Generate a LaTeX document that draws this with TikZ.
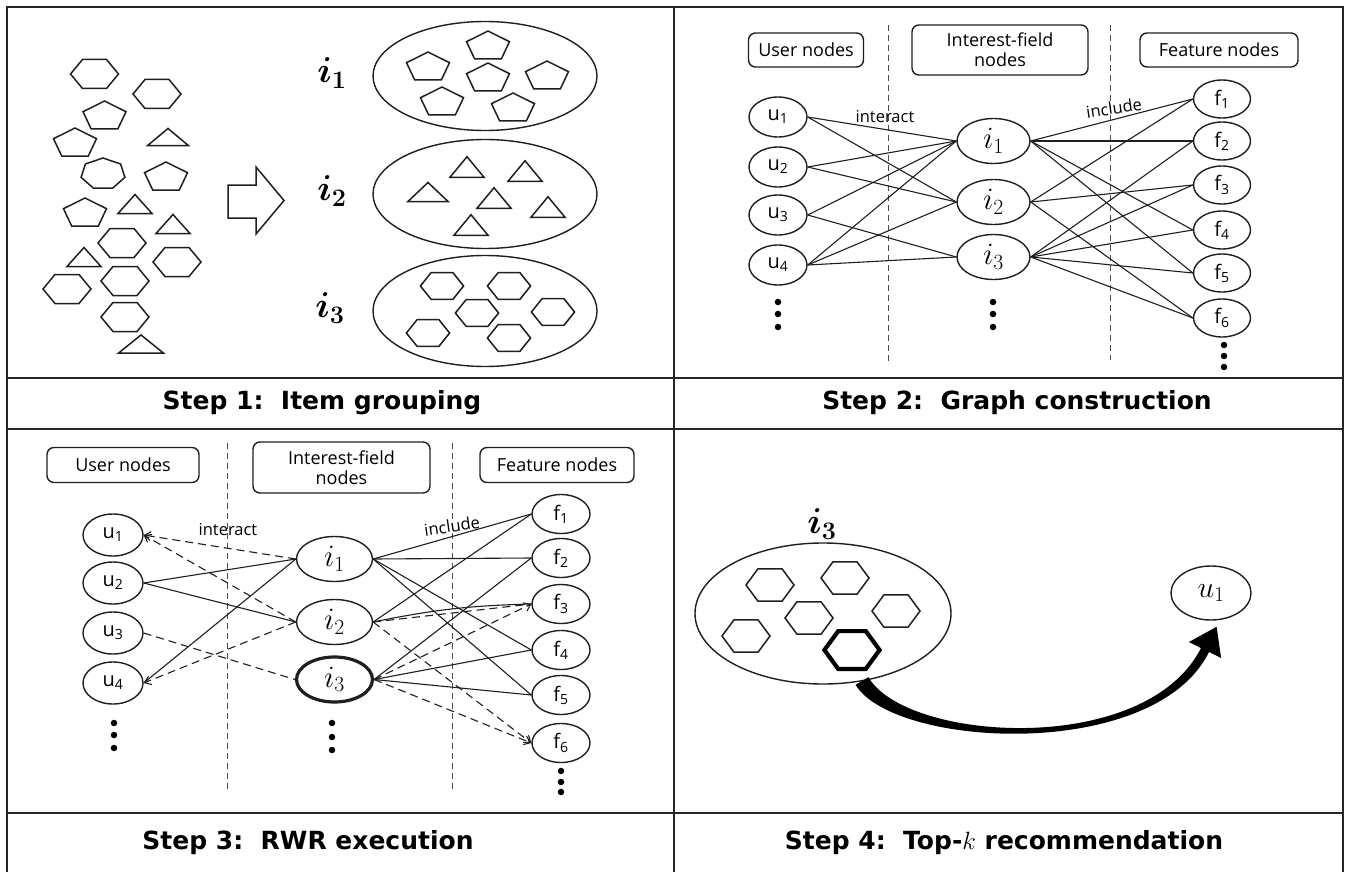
\RequirePackage{fix-cm}
\documentclass[tikz,border=0pt]{standalone}
\usepackage{bm}
\usepackage{fontspec}
\newfontfamily\nf{Open Sans}
\newfontfamily\cf{DejaVu Sans}
\usetikzlibrary{shapes.geometric,arrows.meta}
\tikzset{
  shp/.style={line width=1.5pt, draw=black!88, line join=miter},
  hexa/.pic={\draw[shp] (-24,0)--(-12,-14.5)--(12,-14.5)--(24,0)--(12,14.5)--(-12,14.5)--cycle;},
  penta/.pic={\draw[shp] (0,-14)--(21.5,-3.3)--(13.3,14)--(-13.3,14)--(-21.5,-3.3)--cycle;},
  tri/.pic={\draw[shp] (-17,9.5)--(17,9.5)--(0,-9.5)--cycle;},
  hepta/.pic={\draw[shp] (0,-15)--(17.6,-9)--(21.9,4.3)--(9.8,15)--(-9.8,15)--(-21.9,4.3)--(-17.6,-9)--cycle;},
}
\begin{document}
\begin{tikzpicture}[x=1pt,y=-1pt,
  frm/.style={line width=2.4pt, draw=black!85},
  ell/.style={ellipse, draw=black!88, line width=1.4pt, inner sep=0pt},
  unode/.style={ell, font=\nf\fontsize{20}{21}\selectfont},
  inode/.style={ell, font=\fontsize{31}{33}\selectfont},
  hdr/.style={draw=black!88, line width=1.4pt, rounded corners=7pt, inner sep=0pt, align=center, font=\nf\fontsize{18}{20}\selectfont},
  lnk/.style={line width=1.1pt, draw=black!88},
  dlnk/.style={lnk, dash pattern=on 8pt off 5pt},
  vdash/.style={line width=1pt, draw=black!70, dash pattern=on 6pt off 4pt},
  dotn/.style={circle, fill=black, inner sep=0pt, minimum size=6.5pt},
  steptext/.style={font=\cf\bfseries\fontsize{25}{28}\selectfont},
  lab/.style={font=\nf\fontsize{16.5}{18}\selectfont, inner sep=0pt},
  biglab/.style={font=\fontsize{36}{38}\selectfont, inner sep=0pt},
  barb/.style={-{Straight Barb[length=6pt,width=9pt]}},
]
\useasboundingbox (0,0) rectangle (1346,872);
\fill[white] (0,0) rectangle (1346,872);

% ---------- frame ----------
\draw[frm] (7,7) rectangle (1343,885);
\draw[frm] (7,378) -- (1343,378);
\draw[frm] (7,429) -- (1343,429);
\draw[frm] (7,813) -- (1343,813);
\draw[frm] (674,7) -- (674,885);

% ---------- captions ----------
\node[steptext] (cap1) at (322,403) {Step 1:\ \ Item grouping};
\node[steptext] (cap2) at (1017,403) {Step 2:\ \ Graph construction};
\node[steptext] (cap3) at (308,843) {Step 3:\ \ RWR execution};
\node[steptext] (cap4) at (1004,843) {Step 4:\ \ Top-$k$ recommendation};

% ---------- panel 1 ----------
\pic at (94.5,74) {hexa};
\pic at (157,94) {hexa};
\pic at (104.5,115) {penta};
\pic at (75,142) {penta};
\pic[xscale=1.2,yscale=0.9] at (168,137) {tri};
\pic at (103,173) {hepta};
\pic at (166,176) {penta};
\pic at (85,212) {penta};
\pic at (135,204) {tri};
\pic at (173,224) {tri};
\pic at (122,243) {hexa};
\pic at (84,257) {tri};
\pic at (177,262) {hexa};
\pic at (67,289) {hexa};
\pic at (125,281) {hexa};
\pic at (125,317) {hexa};
\pic[xscale=1.32,yscale=0.95] at (141,344) {tri};

\draw[shp] (228,185) -- (256,185) -- (256,167) -- (284,200.5) -- (256,234) -- (256,218) -- (228,218) -- cycle;

\node[biglab] (Ai1) at (332,73) {$\bm{i_1}$};
\node[biglab] (Ai2) at (332,191) {$\bm{i_2}$};
\node[biglab] (Ai3) at (330,308) {$\bm{i_3}$};

\node[ell, minimum width=224, minimum height=109] (AE1) at (485,76) {};
\node[ell, minimum width=224, minimum height=109] (AE2) at (485,194) {};
\node[ell, minimum width=224, minimum height=111] (AE3) at (485,311) {};

\foreach \p in {(428,66),(488,45),(488,77),(547,75),(442,101),(513,107)} \pic at \p {penta};
\pic[xscale=1.18] at (428,192) {tri};
\foreach \p in {(467,167),(525,171),(494,198),(548,207),(471,225)} \pic[yscale=1.08] at \p {tri};
\foreach \p in {(442,286),(509,286),(477,313),(553,312),(428,333),(509,338)} \pic[xscale=0.9,yscale=0.93] at \p {hexa};

% ---------- panel 2 ----------
\node[hdr, minimum width=115, minimum height=34] (BhU) at (806,50) {User nodes};
\node[hdr, minimum width=176, minimum height=50] (BhI) at (1000,50) {Interest-field\\nodes};
\node[hdr, minimum width=158, minimum height=34] (BhF) at (1219,50) {Feature nodes};
\draw[vdash] (888,25) -- (888,363);
\draw[vdash] (1110,25) -- (1110,360);

\foreach \n/\y in {1/117,2/167,3/215,4/265}
  \node[unode, minimum width=58, minimum height=40] (Bu\n) at (778,\y) {u\textsubscript{\n}};
\foreach \n/\y in {1/141,2/202,3/257}
  \node[inode, minimum width=73, minimum height=45] (Bi\n) at (993.5,\y) {$i_{\n}$};
\foreach \n/\y in {1/99,2/141,3/185,4/230,5/273,6/318}
  \node[unode, minimum width=57, minimum height=38] (Bf\n) at (1222,\y) {f\textsubscript{\n}};
\foreach \n/\y in {1/302,2/314,3/327} {
  \node[dotn] (Bud\n) at (778,\y) {};
  \node[dotn] (Bid\n) at (993,\y) {};
}
\foreach \n/\y in {1/345,2/356,3/367} \node[dotn] (Bfd\n) at (1224,\y) {};

\node[lab] (Blint) at (885,117) {interact};
\node[lab, rotate=8] (Blinc) at (1114,108) {include};

\foreach \a/\b in {1/1,1/2,2/1,2/2,3/1,3/3,4/1,4/2,4/3}
  \draw[lnk] (Bu\a.east) -- (Bi\b.west);
\foreach \a/\b in {1/1,1/2,1/4,1/5,2/1,2/3,2/6,3/2,3/3,3/4,3/5,3/6}
  \draw[lnk] (Bi\a.east) -- (Bf\b.west);

% ---------- panel 3 ----------
\node[hdr, minimum width=152, minimum height=35] (ChU) at (123,465) {User nodes};
\node[hdr, minimum width=177, minimum height=51] (ChI) at (341.5,467.5) {Interest-field\\nodes};
\node[hdr, minimum width=154, minimum height=35] (ChF) at (557,465) {Feature nodes};
\draw[vdash] (227,443) -- (227,790);
\draw[vdash] (452,443) -- (452,792);

\foreach \n/\y in {1/535,2/583,3/633,4/683}
  \node[unode, minimum width=60, minimum height=42] (Cu\n) at (113,\y) {u\textsubscript{\n}};
\node[inode, minimum width=76, minimum height=45] (Ci1) at (334.5,559) {$i_1$};
\node[inode, minimum width=76, minimum height=45] (Ci2) at (334.5,622) {$i_2$};
\node[inode, minimum width=76, minimum height=45, line width=3.2pt] (Ci3) at (334.5,679.5) {$i_3$};
\foreach \n/\y in {1/514,2/558,3/604,4/650,5/695,6/743}
  \node[unode, minimum width=58, minimum height=39] (Cf\n) at (561,\y) {f\textsubscript{\n}};
\foreach \n/\y in {1/723,2/735,3/748} \node[dotn] (Cud\n) at (114,\y) {};
\foreach \n/\y in {1/723,2/737,3/750} \node[dotn] (Cid\n) at (332,\y) {};
\foreach \n/\y in {1/771,2/782,3/792} \node[dotn] (Cfd\n) at (561,\y) {};

\node[lab] (Clint) at (228,530) {interact};
\node[lab, rotate=8] (Clinc) at (452,526) {include};

\foreach \a/\b in {2/1,2/2,4/1}
  \draw[lnk] (Cu\a.east) -- (Ci\b.west);
\draw[dlnk, barb] (Ci1.west) -- (Cu1.east);
\draw[dlnk, barb] (Ci2.west) -- (Cu1.east);
\draw[dlnk, barb] (Ci2.west) -- (Cu4.east);
\draw[dlnk] (Cu3.east) -- (Ci3.west);
\foreach \a/\b in {1/1,1/2,1/4,1/5,2/1,3/2,3/4,3/5}
  \draw[lnk] (Ci\a.east) -- (Cf\b.west);
\draw[lnk] (Ci2.east) to[bend left=5] (Cf3.west);
\draw[dlnk] (Ci2.east) -- (Cf3.west);
\draw[dlnk, barb] (Ci2.east) -- (Cf6.west);
\draw[dlnk, barb] (Ci3.east) -- (Cf3.west);
\draw[dlnk, barb] (Ci3.east) -- (Cf6.west);

% ---------- panel 4 ----------
\node[biglab] (Di3) at (822,524) {$\bm{i_3}$};
\node[ell, minimum width=256, minimum height=141] (DE) at (823,613.5) {};
\foreach \p in {(770,585),(845,578),(896,611),(809,618),(746,636)} \pic[yscale=1.12] at \p {hexa};
\draw[line width=4.2pt, draw=black, line join=miter] (852-27.6,650) -- (852-13.8,650-18.9) -- (852+13.8,650-18.9) -- (852+27.6,650) -- (852+13.8,650+18.9) -- (852-13.8,650+18.9) -- cycle;
\node[ell, minimum width=80, minimum height=54, font=\fontsize{30}{32}\selectfont] (Du1) at (1211,593) {$u_1$};

\fill[black] (868.5,677.2) .. controls (905.6,741.7) and (1145.5,757.8) .. (1201,648)
  -- (1188.9,642) -- (1216.6,626.8) -- (1221.1,658) -- (1209,652)
  .. controls (1154.5,762.2) and (894.4,748.3) .. (855.5,684.8) -- cycle;
\end{tikzpicture}
\end{document}
